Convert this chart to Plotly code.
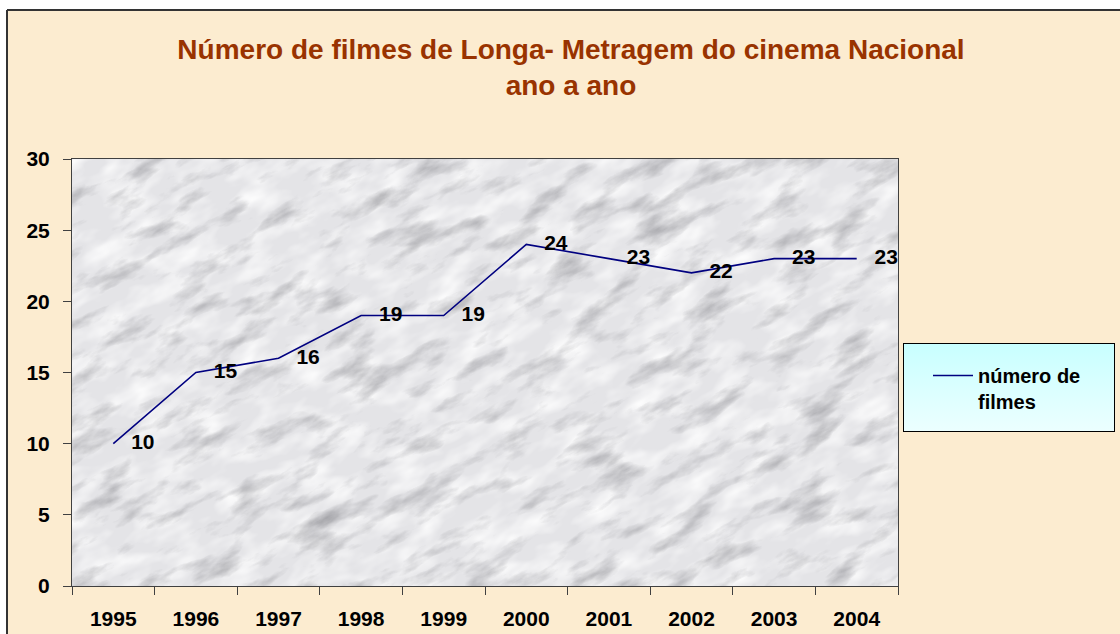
import base64
import plotly.graph_objects as go

# ---- data ----
years = ["1995", "1996", "1997", "1998", "1999", "2000", "2001", "2002", "2003", "2004"]
films = [10, 15, 16, 19, 19, 24, 23, 22, 23, 23]
series_name = "número de<br>filmes"
title_text = "Número de filmes de Longa- Metragem do cinema Nacional<br>ano a ano"
y_ticks = [0, 5, 10, 15, 20, 25, 30]

# ---- layout geometry (pixels) ----
W, H = 1120, 634
L, R, T, B = 72, 222, 159, 48
PW, PH = W - L - R, H - T - B


def px(X):
    return (X - L) / PW


def py(Y):
    return (H - B - Y) / PH


FONT = "Liberation Sans, Arial, sans-serif"

marble_svg = f"""<svg xmlns='http://www.w3.org/2000/svg' width='{PW}' height='{PH}' viewBox='0 0 {PW} {PH}' preserveAspectRatio='none'>
<defs>
<filter id='m' x='0' y='0' width='100%' height='100%' color-interpolation-filters='sRGB'>
<feTurbulence type='fractalNoise' baseFrequency='0.018 0.05' numOctaves='5' seed='7'/>
<feColorMatrix type='matrix' values='0 0 0 0 0.55  0 0 0 0 0.55  0 0 0 0 0.57  1.7 0 0 0 -0.88'/>
</filter>
<filter id='w' x='0' y='0' width='100%' height='100%' color-interpolation-filters='sRGB'>
<feTurbulence type='fractalNoise' baseFrequency='0.025 0.05' numOctaves='3' seed='2'/>
<feColorMatrix type='matrix' values='0 0 0 0 1  0 0 0 0 1  0 0 0 0 1  0 1.8 0 0 -0.72'/>
</filter>
</defs>
<rect width='100%' height='100%' fill='#e4e4e7'/>
<g transform='rotate(-28 {PW/2} {PH/2})'>
<rect x='-400' y='-400' width='{PW+800}' height='{PH+800}' filter='url(#w)'/>
<rect x='-400' y='-400' width='{PW+800}' height='{PH+800}' filter='url(#m)'/>
</g>
</svg>"""
marble_uri = "data:image/svg+xml;base64," + base64.b64encode(marble_svg.encode()).decode()

legend_svg = """<svg xmlns='http://www.w3.org/2000/svg' width='212' height='89' viewBox='0 0 212 89' preserveAspectRatio='none'>
<defs><linearGradient id='g' x1='0' y1='0' x2='0' y2='1'>
<stop offset='0' stop-color='#c8ffff'/><stop offset='1' stop-color='#ecffff'/></linearGradient></defs>
<rect x='0.5' y='0.5' width='211' height='88' fill='url(#g)' stroke='#000' stroke-width='1'/>
</svg>"""
legend_uri = "data:image/svg+xml;base64," + base64.b64encode(legend_svg.encode()).decode()

fig = go.Figure()
fig.add_trace(go.Scatter(
    x=years, y=films, name=series_name,
    mode="lines+markers+text",
    text=[str(v) for v in films],
    textposition="middle right",
    textfont=dict(family=FONT, size=21, color="#000000", weight="bold"),
    line=dict(color="#000080", width=1.6),
    marker=dict(size=27, color="rgba(0,0,0,0)"),
    cliponaxis=False,
    hoverinfo="x+y",
))

fig.update_layout(
    width=W, height=H,
    margin=dict(l=L, r=R, t=T, b=B, pad=0, autoexpand=False),
    paper_bgcolor="#fcecd0",
    plot_bgcolor="#e4e4e7",
    title=dict(
        text=title_text,
        x=571 / W, xanchor="center",
        y=(H - 58.5) / H, yanchor="middle",
        yref="container",
        font=dict(family=FONT, size=28, color="#993300", weight="bold"),
    ),
    xaxis=dict(
        type="category",
        range=[-0.5, len(years) - 0.5],
        tickson="boundaries",
        ticks="outside", ticklen=8, tickcolor="#404040", tickwidth=1,
        showline=True, linecolor="#404040", linewidth=1, mirror=True,
        showgrid=False, zeroline=False,
        tickfont=dict(family=FONT, size=21, color="#000000", weight="bold"),
        ticklabelstandoff=14,
        automargin=False,
        fixedrange=True,
    ),
    yaxis=dict(
        range=[0, 30],
        tickvals=y_ticks,
        ticks="outside", ticklen=8, tickcolor="#404040", tickwidth=1,
        showline=True, linecolor="#404040", linewidth=1, mirror=True,
        showgrid=False, zeroline=False,
        tickfont=dict(family=FONT, size=21, color="#000000", weight="bold"),
        ticklabelstandoff=9,
        automargin=False,
        fixedrange=True,
    ),
    showlegend=True,
    legend=dict(
        x=px(928), y=py(356), xanchor="left", yanchor="top",
        bgcolor="rgba(0,0,0,0)", borderwidth=0,
        font=dict(family=FONT, size=20, color="#000000", weight="bold"),
        valign="top", itemwidth=40,
    ),
    images=[
        dict(source=marble_uri, xref="paper", yref="paper", x=0, y=1,
             sizex=1, sizey=1, sizing="stretch", layer="below",
             xanchor="left", yanchor="top"),
        dict(source=legend_uri, xref="paper", yref="paper", x=px(903), y=py(343),
             sizex=px(1115) - px(903), sizey=py(343) - py(432), sizing="stretch",
             layer="above", xanchor="left", yanchor="top"),
    ],
    shapes=[
        # white margin above and left of the chart frame
        dict(type="rect", xref="paper", yref="paper", x0=px(-5), x1=px(W + 5),
             y0=py(10), y1=py(-5), fillcolor="#ffffff", line=dict(width=0), layer="above"),
        dict(type="rect", xref="paper", yref="paper", x0=px(-5), x1=px(7),
             y0=py(H + 5), y1=py(-5), fillcolor="#ffffff", line=dict(width=0), layer="above"),
        # chart frame
        dict(type="line", xref="paper", yref="paper", x0=px(7), x1=px(W + 5),
             y0=py(10), y1=py(10), line=dict(color="#333333", width=2), layer="above"),
        dict(type="line", xref="paper", yref="paper", x0=px(7), x1=px(7),
             y0=py(10), y1=py(H + 5), line=dict(color="#333333", width=2), layer="above"),
    ],
)

fig.write_html("out.html", config={"displayModeBar": False},
               post_script="document.body.style.margin='0';")
